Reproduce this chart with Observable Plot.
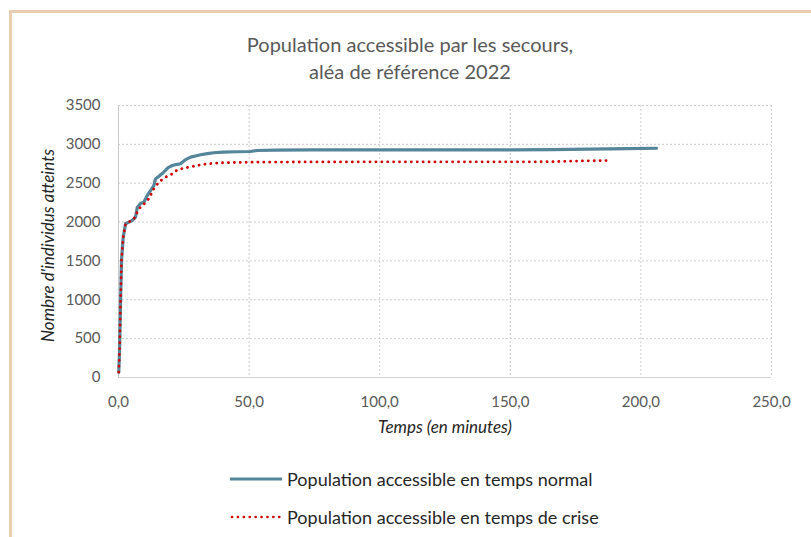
<!DOCTYPE html>
<html>
<head>
<meta charset="utf-8">
<script src="https://cdn.jsdelivr.net/npm/d3@7"></script>
<script src="https://cdn.jsdelivr.net/npm/@observablehq/plot@0.6"></script>
<style>
  html, body { margin: 0; padding: 0; background: #fff; }
  #wrap { position: relative; width: 811px; height: 537px; overflow: hidden; font-family: Lato, "Open Sans", sans-serif; }
  #frameTop { position: absolute; left: 9px; top: 10px; width: 802px; height: 3px; background: #e9cdb2; }
  #frameLeft { position: absolute; left: 9px; top: 10px; width: 3px; height: 527px; background: #e9cdb2; }
  #title { position: absolute; left: 0; width: 820px; top: 31px; text-align: center; font-size: 20px; line-height: 27px; color: #595959; }
  #chart { position: absolute; left: 0; top: 90px; }
  .leg { position: absolute; left: 230px; font-size: 18px; line-height: 22px; color: #262626; display: flex; align-items: center; }
  .leg svg { margin-right: 5px; }
</style>
</head>
<body>
<div id="wrap">
  <div id="frameTop"></div>
  <div id="frameLeft"></div>
  <div id="title">Population accessible par les secours,<br>aléa de référence 2022</div>
  <div id="chart"></div>
  <div class="leg" style="top:468px"><svg width="52" height="6"><line x1="0" x2="52" y1="3" y2="3" stroke="#55859a" stroke-width="3"/></svg><span>Population accessible en temps normal</span></div>
  <div class="leg" style="top:506px"><svg width="52" height="6"><line x1="2" x2="52" y1="3" y2="3" stroke="#d00000" stroke-width="2.6" stroke-linecap="round" stroke-dasharray="0.1 5.8"/></svg><span>Population accessible en temps de crise</span></div>
</div>
<script>
const normalLabel = "Population accessible en temps normal";
const crisisLabel = "Population accessible en temps de crise";
const xTicks = [0, 50, 100, 150, 200, 250];
const yTicks = [0, 500, 1000, 1500, 2000, 2500, 3000, 3500];

const normalT = [0.1,0.4,0.8,1.15,1.8,2.7,4.0,5.2,6.5,7.2,7.8,8.4,9.7,11.0,12.3,13.5,14.2,15.5,17.3,19,20.6,22,23.7,25.5,27.6,29.5,31.4,34,36.5,40,45,50.5,53.1,60,73.5,100,130,150,166,180,195,206];
const normalV = [68,347,990,1505,1805,1978,2000,2020,2063,2191,2213,2239,2256,2342,2406,2470,2557,2590,2642,2700,2728,2740,2750,2800,2835,2850,2866,2880,2892,2900,2905,2908,2921,2925,2930,2930,2930,2930,2932,2938,2944,2950];

const crisisT = [0.1,0.4,0.8,1.15,1.8,2.7,4.0,5.9,7.8,9.7,11.6,13.5,15.4,18,20.6,22.5,25,30.1,34,39,50.5,73.5,100,130,164,175,187];
const crisisV = [68,347,990,1505,1805,1978,2000,2042,2170,2230,2300,2428,2513,2577,2621,2672,2693,2728,2750,2763,2770,2774,2775,2775,2776,2785,2792];

const normal = normalT.map((t, i) => ({t, v: normalV[i]}));
const crisis = crisisT.map((t, i) => ({t, v: crisisV[i]}));

const fmt = d3.format(".1f");
const chart = Plot.plot({
  width: 811,
  height: 350,
  marginTop: 15,
  marginBottom: 63,
  marginLeft: 118,
  marginRight: 40,
  style: {fontFamily: "Lato, 'Open Sans', sans-serif", fontSize: "15px", color: "#595959", background: "transparent"},
  x: {domain: [0, 250], ticks: xTicks},
  y: {domain: [0, 3500], ticks: yTicks},
  marks: [
    Plot.gridX(xTicks.slice(1), {stroke: "#cccccc", strokeOpacity: 1, strokeDasharray: "2 2"}),
    Plot.gridY(yTicks.slice(1), {stroke: "#cccccc", strokeOpacity: 1, strokeDasharray: "2 2"}),
    Plot.ruleX([0], {stroke: "#c8c8c8"}),
    Plot.ruleY([0], {stroke: "#d0d0d0"}),
    Plot.axisX(xTicks, {tickSize: 0, tickPadding: 19, label: null, tickFormat: d => fmt(d).replace(".", ","), fill: "#595959", fontSize: 15}),
    Plot.axisY(yTicks, {tickSize: 0, tickPadding: 18, label: null, tickFormat: d => String(d), fill: "#595959", fontSize: 15}),
    Plot.text(["Temps (en minutes)"], {frameAnchor: "bottom", textAnchor: "middle", dy: 55, fontStyle: "italic", fill: "#262626", fontSize: 17}),
    Plot.text(["Nombre d'individus atteints"], {frameAnchor: "left", textAnchor: "middle", dx: -70, dy: 4, rotate: -90, fontStyle: "italic", fill: "#262626", fontSize: 17}),
    Plot.line(normal, {x: "t", y: "v", stroke: "#55859a", strokeWidth: 3.2}),
    Plot.line(crisis, {x: "t", y: "v", stroke: "#d00000", strokeWidth: 2.8, strokeLinecap: "round", strokeDasharray: "0.1 5.8"})
  ]
});
document.getElementById("chart").appendChild(chart);
</script>
</body>
</html>
